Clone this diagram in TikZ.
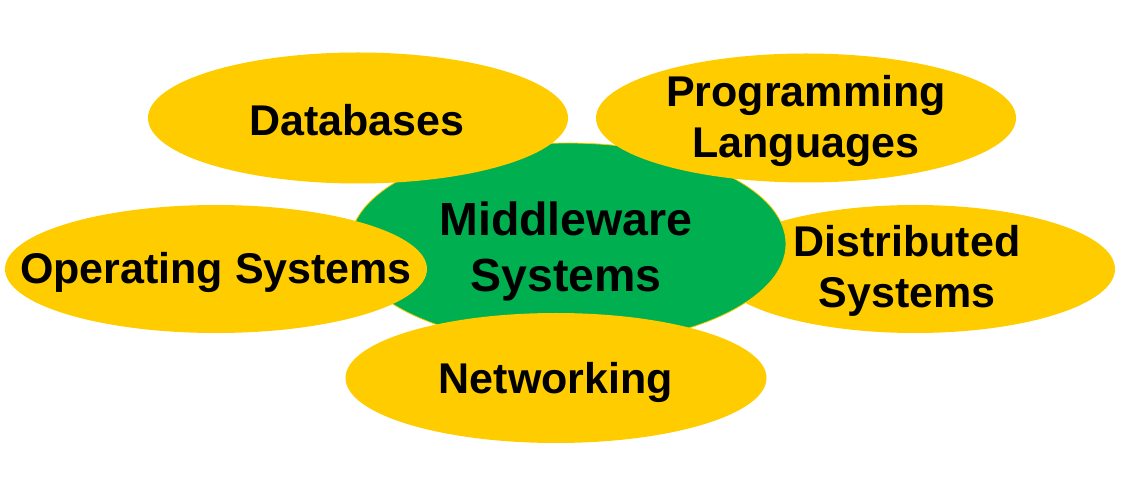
\documentclass[tikz,border=0pt]{standalone}
\usepackage{fontspec}
\setmainfont{Liberation Sans}
\definecolor{petal}{HTML}{FFCC00}
\definecolor{core}{HTML}{00B050}
\begin{document}
\begin{tikzpicture}[x=1pt,y=1pt,
  petalfill/.style={fill=petal},
  corefill/.style={fill=core, draw=petal, line width=0.8pt},
  label/.style={inner sep=0pt, align=center, font=\fontsize{43}{51}\selectfont\bfseries},
  biglabel/.style={inner sep=0pt, align=center, font=\fontsize{46.5}{56}\selectfont\bfseries}]
\useasboundingbox (0,0) rectangle (1140,487);
\fill[petalfill] (915,218) ellipse (200 and 64);
\node[label] (dist) at (907,216) {Distributed\\Systems};
\filldraw[corefill] (568,243) ellipse (218 and 101);
\node[biglabel] (mid) at (566,236) {Middleware\\Systems};
\fill[petalfill] (358,369) ellipse (210 and 65.5);
\node[label] (db) at (357,367) {Databases};
\fill[petalfill] (806,369) ellipse (210 and 64.5);
\node[label] (pl) at (806,366) {Programming\\Languages};
\fill[petalfill] (216,218) ellipse (211 and 64);
\node[label] (os) at (216,215) {Operating Systems};
\fill[petalfill] (556,109) ellipse (210.5 and 65);
\node[label] (net) at (556,105) {Networking};
\end{tikzpicture}
\end{document}
